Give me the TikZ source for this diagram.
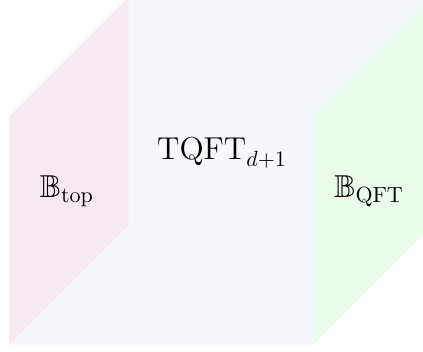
\documentclass[tikz,border=0pt]{standalone}
\usepackage{amsmath,amssymb}
\usepackage{xcolor}
\definecolor{topBg}{HTML}{F7E9F1}
\definecolor{bulkBg}{HTML}{F7F8FD}
\definecolor{qftBg}{HTML}{EAFDEA}
\tikzset{
  face/.style={fill=#1, draw=none},
  lbl/.style={anchor=base, inner sep=0pt, font=\Large}
}
\begin{document}
\begin{tikzpicture}[x=1cm,y=1cm]
  \clip (0,0) rectangle (6.76,5.61);
  % slab, then its two boundary faces
  \fill[face=bulkBg] (0.15,0.1) -- (5.0,0.1) -- (6.9,2.0) -- (6.9,5.65) -- (2.05,5.65) -- (0.15,3.75) -- cycle;
  \fill[face=topBg] (0.15,0.1) -- (2.05,2.0) -- (2.05,5.65) -- (0.15,3.75) -- cycle;
  \fill[face=qftBg] (5.0,0.1) -- (6.9,2.0) -- (6.9,5.65) -- (5.0,3.75) -- cycle;
  \node[lbl] (bulk) at (3.55,3.06) {$\mathrm{TQFT}_{d+1}$};
  \node[lbl] (topBdy) at (1.07,2.45) {$\mathbb{B}_{\mathrm{top}}$};
  \node[lbl] (qftBdy) at (5.90,2.45) {$\mathbb{B}_{\mathrm{QFT}}$};
\end{tikzpicture}
\end{document}
